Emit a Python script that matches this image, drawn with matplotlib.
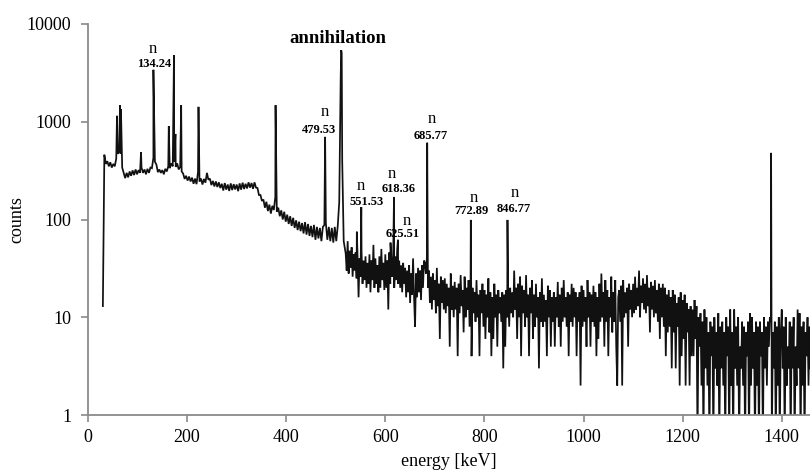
import numpy as np
import matplotlib
matplotlib.use("Agg")
import matplotlib.pyplot as plt

plt.rcParams['font.family'] = ['Liberation Serif', 'DejaVu Serif']

# ---- data ----
# low-energy part of the continuum: 30 keV onwards, 3 keV channels
low_start_kev = 30
low_step_kev = 3
low_counts = [
    # 30 keV
    13, 460, 370, 395, 350, 385, 340, 370, 350, 420,
    # 60
    470, 490, 470, 340, 300, 265, 300, 270, 310, 280,
    # 90
    318, 285, 325, 290, 320, 300, 340, 300, 325, 290,
    # 120
    330, 300, 340, 335, 430, 390, 365, 305, 325, 300,
    # 150
    320, 290, 330, 310, 350, 335, 375, 350, 390, 345,
    # 180
    375, 325, 345, 310, 295, 260, 280, 250, 275, 245,
    # 210
    268, 232, 262, 230, 305, 245, 262, 228, 260, 238,
    # 240
    300, 255, 262, 225, 248, 218, 245, 215, 240, 210,
    # 270
    232, 198, 236, 202, 228, 196, 234, 200, 230, 203,
    # 300
    228, 195, 234, 202, 238, 205, 232, 208, 240, 212,
    # 330
    236, 206, 240, 212, 210, 178, 178, 155, 160, 132,
    # 360
    152, 122, 142, 115, 138, 125, 170, 120, 132, 108,
    # 390
    124, 100, 120, 95, 112, 90, 108, 86, 104, 82,
    # 420
    98, 78, 95, 76, 92, 72, 94, 70, 90, 68,
    # 450
    86, 66, 88, 62, 84, 64, 82, 60, 84, 88,
    # 480
    92, 62, 84, 60, 82, 58, 84, 60, 86, 150,
    # 510
    3000, 400, 60,
]

# high-energy part of the continuum: 520 keV onwards, 2 keV channels
high_start_kev = 520
high_step_kev = 2
high_counts = [
    # 520 keV
    45, 30, 60, 28, 48, 32, 52, 26, 44, 30,
    # 540
    46, 25, 42, 16, 40, 26, 48, 22, 38, 24,
    # 560
    42, 20, 36, 22, 44, 18, 38, 24, 55, 20,
    # 580
    40, 22, 34, 18, 42, 20, 50, 24, 36, 19,
    # 600
    44, 20, 38, 12, 46, 22, 40, 26, 48, 20,
    # 620
    42, 24, 50, 22, 38, 20, 34, 18, 36, 22,
    # 640
    32, 16, 30, 18, 34, 14, 28, 17, 40, 16,
    # 660
    8, 28, 16, 32, 18, 30, 15, 34, 20, 38,
    # 680
    36, 28, 42, 20, 30, 14, 26, 12, 28, 15,
    # 700
    24, 11, 32, 13, 22, 6, 26, 14, 24, 12,
    # 720
    25, 11, 22, 13, 20, 5, 28, 12, 21, 10,
    # 740
    23, 12, 20, 4, 22, 11, 27, 13, 19, 7,
    # 760
    26, 10, 20, 12, 24, 8, 21, 4, 20, 11,
    # 780
    18, 9, 24, 10, 17, 4, 19, 11, 22, 8,
    # 800
    19, 6, 17, 10, 25, 7, 18, 4, 16, 6,
    # 820
    22, 10, 17, 5, 19, 11, 16, 9, 18, 3,
    # 840
    17, 5, 19, 10, 16, 8, 20, 11, 18, 10,
    # 860
    30, 12, 20, 6, 22, 10, 26, 4, 21, 11,
    # 880
    19, 8, 27, 10, 17, 4, 20, 11, 24, 6,
    # 900
    17, 8, 22, 10, 16, 3, 18, 9, 25, 8,
    # 920
    17, 9, 15, 4, 21, 10, 19, 5, 16, 9,
    # 940
    18, 5, 16, 10, 23, 8, 17, 5, 20, 9,
    # 960
    24, 10, 16, 8, 18, 4, 17, 9, 22, 8,
    # 980
    20, 10, 18, 4, 16, 9, 18, 2, 21, 8,
    # 1000
    19, 9, 16, 5, 24, 10, 18, 5, 17, 9,
    # 1020
    21, 8, 18, 4, 16, 6, 22, 9, 28, 10,
    # 1040
    18, 5, 24, 9, 19, 4, 16, 10, 26, 7,
    # 1060
    18, 9, 24, 5, 2, 16, 19, 9, 21, 2,
    # 1080
    24, 10, 18, 11, 20, 5, 22, 12, 19, 10,
    # 1100
    22, 11, 26, 12, 20, 13, 30, 10, 21, 14,
    # 1120
    25, 12, 22, 11, 27, 13, 20, 7, 23, 12,
    # 1140
    21, 10, 24, 11, 19, 9, 22, 6, 20, 10,
    # 1160
    22, 8, 20, 4, 17, 7, 19, 8, 16, 3,
    # 1180
    19, 7, 17, 3, 14, 8, 16, 2, 18, 4,
    # 1200
    15, 6, 17, 2, 14, 7, 12, 2, 13, 4,
    # 1220
    12, 4, 15, 6, 13, 0.5, 10, 5, 11, 2,
    # 1240
    9, 0.5, 12, 3, 10, 2, 7, 0.5, 9, 4,
    # 1260
    8, 0.5, 10, 3, 7, 2, 11, 0.5, 8, 3,
    # 1280
    9, 2, 7, 0.5, 10, 4, 8, 0.5, 12, 2,
    # 1300
    7, 0.5, 12, 3, 8, 2, 10, 0.5, 5, 3,
    # 1320
    9, 2, 8, 0.5, 7, 4, 9, 0.5, 11, 2,
    # 1340
    10, 3, 7, 0.5, 9, 2, 8, 0.5, 9, 4,
    # 1360
    7, 0.5, 10, 3, 8, 2, 9, 5, 10, 9,
    # 1380
    0.5, 7, 3, 9, 0.5, 8, 2, 10, 0.5, 7,
    # 1400
    12, 3, 8, 0.5, 10, 2, 5, 3, 9, 0.5,
    # 1420
    8, 3, 10, 0.5, 5, 2, 12, 3, 11, 0.5,
    # 1440
    8, 2, 9, 0.5, 7, 4, 10, 2, 8, 3,
]

peak_energy = [58.5, 64.5, 66.5, 107, 132, 163, 173.5, 176.5, 188, 223,
               378.5, 478.5, 511, 512, 542.5, 551.5, 610.5, 617.5, 625.5,
               684.5, 772.5, 846.5, 1378.5]
peak_counts = [1150, 1480, 1340, 490, 3400, 900, 4800, 750, 1480, 1420,
               1480, 700, 5400, 5000, 75, 134, 58, 170, 62,
               610, 99, 99, 480]

label_text = ["134.24", "479.53", "551.53", "618.36", "625.51",
              "685.77", "772.89", "846.77"]
label_n_pos = [(131, 5550), (477, 1267), (551, 222), (614, 292), (643, 97),
               (694, 1059), (778, 165), (862, 185)]
label_num_pos = [(133, 3900), (467, 824), (562, 152), (626, 205), (636, 71),
                 (692, 715), (773, 123), (860, 127)]

# ---- build spectrum ----
low_energy = low_start_kev + low_step_kev * np.arange(len(low_counts))
high_energy = high_start_kev + high_step_kev * np.arange(len(high_counts))
E = np.concatenate([low_energy, high_energy, np.array(peak_energy, dtype=float)])
C = np.concatenate([np.array(low_counts, dtype=float),
                    np.array(high_counts, dtype=float),
                    np.array(peak_counts, dtype=float)])
order = np.argsort(E, kind="stable")
E, C = E[order], C[order]

fig = plt.figure(figsize=(8.10, 4.72), dpi=100)
ax = fig.add_axes([88 / 810, 1 - 415 / 472, 1 - 88 / 810, (415 - 24) / 472])
ax.plot(E, C, color="#111111", lw=1.25, solid_joinstyle="miter")
ax.set_yscale("log")
ax.set_xlim(0, 1457)
ax.set_ylim(1, 10000)
ax.set_xticks([0, 200, 400, 600, 800, 1000, 1200, 1400])
ax.set_yticks([1, 10, 100, 1000, 10000])
ax.set_yticklabels(["1", "10", "100", "1000", "10000"])
ax.minorticks_off()

for s in ["top", "right"]:
    ax.spines[s].set_visible(False)
for s in ["left", "bottom"]:
    ax.spines[s].set_color("#8a8a8a")
    ax.spines[s].set_linewidth(1.3)
ax.tick_params(axis="both", colors="#8a8a8a", length=5, width=1.2,
               labelcolor="black", labelsize=13)
ax.tick_params(axis="y", pad=7)
ax.tick_params(axis="x", pad=5)

ax.set_xlabel("energy [keV]", fontsize=13, labelpad=5)
ax.set_ylabel("counts", fontsize=13, labelpad=1)

for t, pn, pt in zip(label_text, label_n_pos, label_num_pos):
    ax.text(pn[0], pn[1], "n", ha="center", va="center", fontsize=12)
    ax.text(pt[0], pt[1], t, ha="center", va="center", fontsize=9,
            fontweight="bold")

ax.text(504, 7030, "annihilation", ha="center", va="center", fontsize=13.5,
        fontweight="bold")

fig.savefig("out.png", dpi=100)
